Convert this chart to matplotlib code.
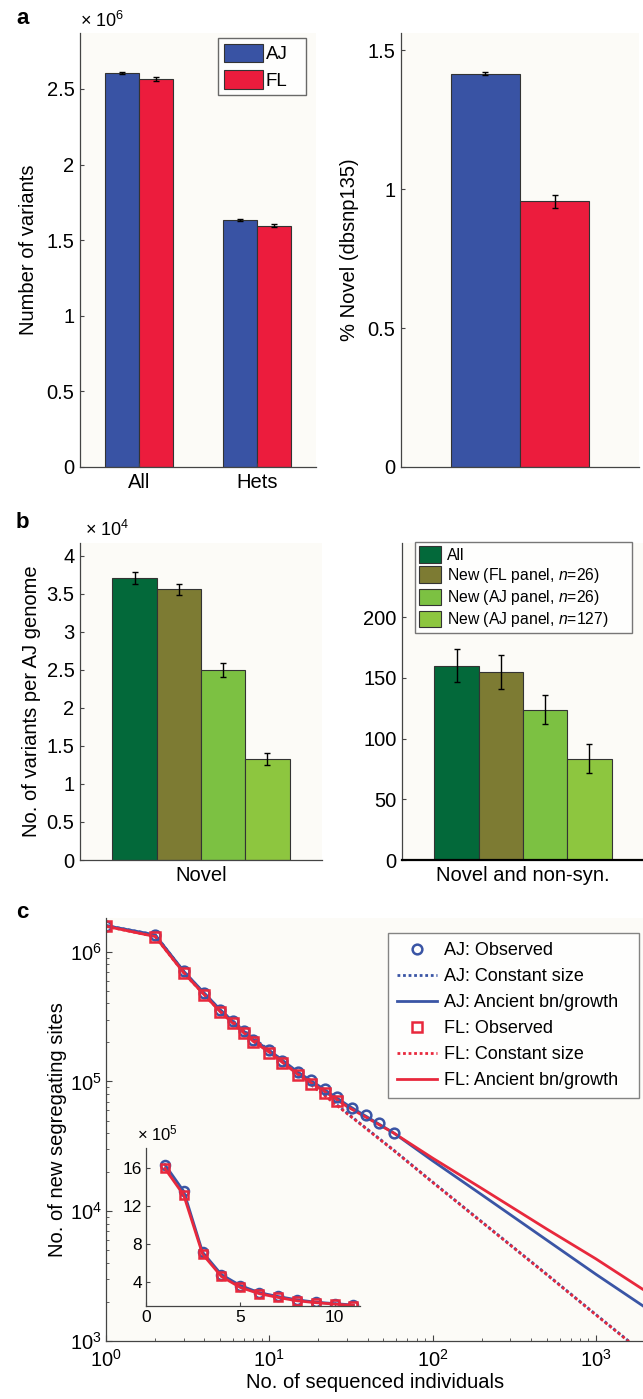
import matplotlib
matplotlib.use("Agg")
import matplotlib.pyplot as plt
from matplotlib.ticker import FormatStrFormatter, LogLocator, NullFormatter

plt.rcParams["font.family"] = ["Liberation Sans", "DejaVu Sans"]
plt.rcParams["mathtext.fontset"] = "custom"
plt.rcParams["mathtext.rm"] = "Liberation Sans"
plt.rcParams["mathtext.it"] = "Liberation Sans:italic"
plt.rcParams["mathtext.default"] = "regular"

# panel a: number of variants (x 10^6) and % novel
a_groups = ["All", "Hets"]
a_aj = [2.605, 1.634]
a_fl = [2.565, 1.596]
a_aj_err = [0.008, 0.008]
a_fl_err = [0.012, 0.010]
novel_pct = [1.417, 0.957]
novel_err = [0.005, 0.024]

# panel b: variants per AJ genome
b_series = ["All", "New (FL panel, $\\mathit{n}$=26)",
            "New (AJ panel, $\\mathit{n}$=26)", "New (AJ panel, $\\mathit{n}$=127)"]
b_novel = [3.706, 3.56, 2.495, 1.325]          # x 10^4
b_novel_err = [0.08, 0.07, 0.09, 0.077]
b_nonsyn = [160, 154.7, 123.6, 83.5]
b_nonsyn_err = [13.7, 14.0, 12.0, 12.2]

# panel c: new segregating sites
obs_x_aj = [1, 2, 3, 4, 5, 6, 7, 8, 10, 12, 15, 18, 22, 26, 32, 39, 47, 58]
obs_aj = [1.59e6, 1.35e6, 7.05e5, 4.81e5, 3.58e5, 2.91e5, 2.47e5, 2.10e5, 1.74e5,
          1.45e5, 1.18e5, 1.02e5, 8.7e4, 7.6e4, 6.3e4, 5.5e4, 4.75e4, 4.03e4]
obs_x_fl = [1, 2, 3, 4, 5, 6, 7, 8, 10, 12, 15, 18, 22, 26]
obs_fl = [1.57e6, 1.31e6, 6.85e5, 4.65e5, 3.45e5, 2.80e5, 2.38e5, 2.03e5, 1.66e5,
          1.38e5, 1.12e5, 9.6e4, 8.1e4, 7.1e4]

model_x = [1, 2, 3, 4, 5, 6, 8, 10, 15, 20, 30, 58, 100, 200, 500, 1000, 2000]
const_aj = [1.59e6, 1.35e6, 7.0e5, 4.75e5, 3.55e5, 2.92e5, 2.15e5, 1.74e5, 1.16e5,
            8.6e4, 5.7e4, 2.95e4, 1.68e4, 8.3e3, 3.27e3, 1.6e3, 7.9e2]
const_fl = [1.57e6, 1.31e6, 6.85e5, 4.65e5, 3.47e5, 2.86e5, 2.11e5, 1.71e5, 1.14e5,
            8.5e4, 5.65e4, 2.93e4, 1.67e4, 8.25e3, 3.25e3, 1.59e3, 7.85e2]
growth_aj = [1.59e6, 1.35e6, 7.05e5, 4.8e5, 3.58e5, 2.9e5, 2.1e5, 1.74e5, 1.18e5,
             9.3e4, 6.6e4, 4.0e4, 2.45e4, 1.34e4, 6.0e3, 3.27e3, 1.82e3]
growth_fl = [1.57e6, 1.31e6, 6.85e5, 4.65e5, 3.45e5, 2.8e5, 2.03e5, 1.68e5, 1.13e5,
             9.0e4, 6.4e4, 4.0e4, 2.57e4, 1.5e4, 7.3e3, 4.3e3, 2.44e3]

inset_x = [1, 2, 3, 4, 5, 6, 7, 8, 9, 10, 11]
inset_aj = [16.3, 13.5, 7.1, 4.75, 3.6, 2.85, 2.45, 2.1, 1.85, 1.7, 1.55]   # x 10^5
inset_fl = [15.9, 13.1, 6.9, 4.55, 3.4, 2.75, 2.35, 2.0, 1.8, 1.65, 1.5]

blue = "#3953a4"
red = "#ec1c3d"
greens = ["#03693a", "#7d7b33", "#7cc142", "#8dc63f"]
line_blue = "#3a55a5"
line_red = "#e8283c"
bg = "#fcfbf7"
spine_col = "#444444"

W, H = 643, 1399
fig = plt.figure(figsize=(W / 100, H / 100), dpi=100)


def px_axes(l, t, r, b):
    ax = fig.add_axes([l / W, 1 - b / H, (r - l) / W, (b - t) / H])
    ax.set_facecolor(bg)
    for s in ["top", "right"]:
        ax.spines[s].set_visible(False)
    for s in ["left", "bottom"]:
        ax.spines[s].set_color(spine_col)
        ax.spines[s].set_linewidth(0.9)
    ax.tick_params(direction="in", length=3, width=0.8, color=spine_col,
                   labelsize=14.5, pad=4)
    return ax


ebkw = dict(ecolor="black", elinewidth=1.0, capsize=2, capthick=1.0)

# ---- a (left)
ax = px_axes(80, 33, 316, 467)
xs = [1, 2]
bw = 0.285
ax.bar([x - bw / 2 for x in xs], a_aj, bw, yerr=a_aj_err, color=blue,
       edgecolor="#333333", linewidth=0.8, label="AJ", error_kw=ebkw)
ax.bar([x + bw / 2 for x in xs], a_fl, bw, yerr=a_fl_err, color=red,
       edgecolor="#333333", linewidth=0.8, label="FL", error_kw=ebkw)
ax.set_xlim(0.5, 2.5)
ax.set_ylim(0, 2.87)
ax.set_xticks(xs)
ax.set_xticklabels(a_groups)
ax.set_yticks([0, 0.5, 1, 1.5, 2, 2.5])
ax.yaxis.set_major_formatter(FormatStrFormatter("%g"))
ax.set_ylabel("Number of variants", fontsize=14.5, labelpad=6)
ax.text(0.0, 1.005, "× 10$^{6}$", transform=ax.transAxes, fontsize=13,
        ha="left", va="bottom")
leg = ax.legend(loc="upper left", bbox_to_anchor=(0.585, 0.978, 0.373, 0.01),
                mode="expand", fontsize=13.5, handlelength=2.1,
                handleheight=1.15, handletextpad=0.15, borderpad=0.3,
                labelspacing=0.35, fancybox=False, borderaxespad=0)
leg.get_frame().set_edgecolor("#444444")
leg.get_frame().set_linewidth(1.0)
fig.text(16 / W, 1 - 18 / H, "a", fontsize=16, fontweight="bold",
         ha="left", va="center")

# ---- a (right)
ax = px_axes(401, 33, 639, 467)
ax.bar([1 - 0.145], novel_pct[0], 0.29, yerr=novel_err[0], color=blue,
       edgecolor="#333333", linewidth=0.8, error_kw=ebkw)
ax.bar([1 + 0.145], novel_pct[1], 0.29, yerr=novel_err[1], color=red,
       edgecolor="#333333", linewidth=0.8, error_kw=ebkw)
ax.set_xlim(0.5, 1.5)
ax.set_ylim(0, 1.563)
ax.set_xticks([])
ax.set_yticks([0, 0.5, 1, 1.5])
ax.yaxis.set_major_formatter(FormatStrFormatter("%g"))
ax.set_ylabel("% Novel (dbsnp135)", fontsize=14.5, labelpad=6)

# ---- b (left)
bw = 0.183
offs = [-1.5, -0.5, 0.5, 1.5]
ax = px_axes(80, 543, 322, 860)
for i in range(4):
    ax.bar(1 + offs[i] * bw, b_novel[i], bw, yerr=b_novel_err[i],
           color=greens[i], edgecolor="#333333", linewidth=0.8, error_kw=ebkw)
ax.set_xlim(0.5, 1.5)
ax.set_ylim(0, 4.17)
ax.set_xticks([1])
ax.set_xticklabels(["Novel"])
ax.tick_params(axis="x", length=0)
ax.set_yticks([0, 0.5, 1, 1.5, 2, 2.5, 3, 3.5, 4])
ax.yaxis.set_major_formatter(FormatStrFormatter("%g"))
ax.set_ylabel("No. of variants per AJ genome", fontsize=14.5, labelpad=4)
ax.text(0.02, 1.01, "× 10$^{4}$", transform=ax.transAxes, fontsize=13,
        ha="left", va="bottom")
fig.text(16 / W, 1 - 523 / H, "b", fontsize=16, fontweight="bold",
         ha="left", va="center")

# ---- b (right)
ax = px_axes(402, 543, 644, 860)
for i in range(4):
    ax.bar(1 + offs[i] * bw, b_nonsyn[i], bw, yerr=b_nonsyn_err[i],
           color=greens[i], edgecolor="#333333", linewidth=0.8,
           label=b_series[i], error_kw=ebkw)
ax.set_xlim(0.5, 1.5)
ax.set_ylim(0, 261)
ax.set_xticks([1])
ax.set_xticklabels(["Novel and non-syn."])
ax.tick_params(axis="x", length=0)
ax.set_yticks([0, 50, 100, 150, 200])
ax.spines["bottom"].set_color("black")
ax.spines["bottom"].set_linewidth(1.6)
leg = ax.legend(loc="upper left", bbox_to_anchor=(0.054, 0.992, 0.896, 0.01),
                mode="expand", fontsize=11.3, handlelength=1.4,
                handleheight=1.25, handletextpad=0.4, borderpad=0.25,
                labelspacing=0.2, fancybox=False, borderaxespad=0)
leg.get_frame().set_edgecolor("#555555")
leg.get_frame().set_linewidth(1.0)

# ---- c
ax = px_axes(106, 918, 645, 1341)
ax.set_xscale("log")
ax.set_yscale("log")
ax.plot(model_x, const_aj, color=line_blue, lw=2, ls=(0, (1, 1)),
        label="AJ: Constant size")
ax.plot(model_x, growth_aj, color=line_blue, lw=2, label="AJ: Ancient bn/growth")
ax.plot(model_x, const_fl, color=line_red, lw=2, ls=(0, (1, 1)),
        label="FL: Constant size")
ax.plot(model_x, growth_fl, color=line_red, lw=2, label="FL: Ancient bn/growth")
ax.plot(obs_x_aj, obs_aj, ls="none", marker="o", ms=7, mfc="none", mew=1.8,
        mec=line_blue, label="AJ: Observed")
ax.plot(obs_x_fl, obs_fl, ls="none", marker="s", ms=6.5, mfc="none", mew=1.8,
        mec=line_red, label="FL: Observed")
ax.set_xlim(1, 2000)
ax.set_ylim(1e3, 10 ** 6.26)
ax.xaxis.set_minor_locator(LogLocator(subs=range(2, 10)))
ax.yaxis.set_minor_locator(LogLocator(subs=range(2, 10)))
ax.xaxis.set_minor_formatter(NullFormatter())
ax.yaxis.set_minor_formatter(NullFormatter())
ax.tick_params(which="minor", direction="in", length=2, color=spine_col)
ax.tick_params(which="major", length=4)
ax.tick_params(axis="x", pad=6)
ax.tick_params(axis="y", pad=3)
ax.set_xlabel("No. of sequenced individuals", fontsize=14.5, labelpad=1)
ax.set_ylabel("No. of new segregating sites", fontsize=14.5, labelpad=2)
handles, labels = ax.get_legend_handles_labels()
order = ["AJ: Observed", "AJ: Constant size", "AJ: Ancient bn/growth",
         "FL: Observed", "FL: Constant size", "FL: Ancient bn/growth"]
hmap = dict(zip(labels, handles))
leg = ax.legend([hmap[k] for k in order], order, loc="upper left",
                bbox_to_anchor=(0.524, 0.955, 0.464, 0.01), mode="expand",
                fontsize=13, handlelength=2.2, handletextpad=0.4,
                borderpad=0.5, labelspacing=0.5, fancybox=False,
                borderaxespad=0)
leg.get_frame().set_edgecolor("#666666")
leg.get_frame().set_linewidth(1.0)
fig.text(16 / W, 1 - 913 / H, "c", fontsize=16, fontweight="bold",
         ha="left", va="center")

# inset
ax = px_axes(146, 1148, 360, 1306)
ax.plot(inset_x, inset_aj, color=line_blue, lw=2, marker="o", ms=6.5,
        mfc="none", mew=1.8, mec=line_blue)
ax.plot(inset_x, inset_fl, color=line_red, lw=2, marker="s", ms=6,
        mfc="none", mew=1.8, mec=line_red)
ax.set_xlim(0, 11.35)
ax.set_ylim(1.45, 18.05)
ax.set_xticks([0, 5, 10])
ax.set_yticks([4, 8, 12, 16])
ax.tick_params(labelsize=12.5, length=3, pad=3)
ax.text(-0.04, 1.03, "× 10$^{5}$", transform=ax.transAxes, fontsize=12,
        ha="left", va="bottom")

fig.savefig("out.png", dpi=100, facecolor="white")
